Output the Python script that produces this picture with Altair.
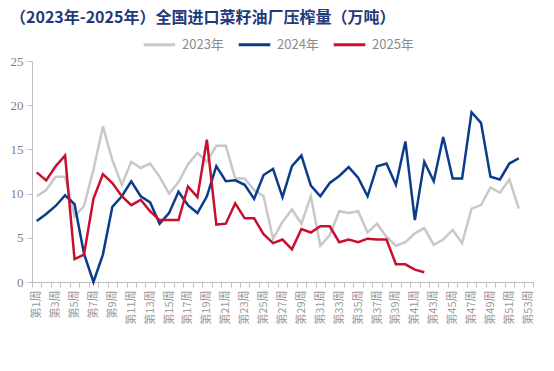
import altair as alt
import pandas as pd

weeks = [f"第{i}周" for i in range(1, 54)]
years = ["2023年", "2024年", "2025年"]
colors = ["#C8C8C8", "#0B3C8C", "#C8102E"]

w2023 = [9.7, 10.4, 11.9, 11.9, 7.4, 8.6, 12.7, 17.6, 13.8, 11.0,
         13.6, 12.9, 13.4, 11.9, 10.0, 11.3, 13.3, 14.6, 13.6, 15.4,
         15.4, 11.7, 11.7, 10.4, 9.7, 4.9, 6.8, 8.2, 6.6, 9.7,
         4.1, 5.3, 8.0, 7.8, 8.0, 5.6, 6.6, 5.1, 4.1, 4.5,
         5.5, 6.1, 4.2, 4.8, 5.9, 4.4, 8.3, 8.7, 10.7, 10.1,
         11.6, 8.3]
w2024 = [6.9, 7.7, 8.6, 9.8, 8.8, 3.2, 0.0, 3.1, 8.5, 9.7,
         11.4, 9.7, 9.0, 6.6, 7.8, 10.2, 8.7, 7.8, 9.7, 13.1,
         11.4, 11.5, 11.0, 9.4, 12.1, 12.8, 9.6, 13.1, 14.3, 10.9,
         9.7, 11.2, 12.0, 13.0, 11.8, 9.7, 13.1, 13.4, 11.0, 15.9,
         7.0, 13.6, 11.4, 16.4, 11.7, 11.7, 19.2, 18.0, 11.9, 11.6,
         13.4, 14.0]
w2025 = [12.4, 11.5, 13.1, 14.3, 2.6, 3.1, 9.4, 12.2, 11.2, 9.7,
         8.7, 9.3, 8.0, 7.0, 7.0, 7.0, 10.8, 9.6, 16.1, 6.5,
         6.6, 8.9, 7.2, 7.2, 5.4, 4.4, 4.8, 3.7, 6.0, 5.6,
         6.3, 6.3, 4.5, 4.8, 4.5, 4.9, 4.8, 4.8, 2.0, 2.0,
         1.4, 1.1]

rows = []
for yr, vals in zip(years, [w2023, w2024, w2025]):
    for i, v in enumerate(vals):
        rows.append({"week": weeks[i], "year": yr, "value": v})
df = pd.DataFrame(rows)

label_expr = ("parseInt(replace(replace(datum.label,'第',''),'周','')) % 2 == 1 "
              "? datum.label : ''")

chart = alt.Chart(df).mark_line(strokeWidth=2.5).encode(
    x=alt.X("week:N", sort=weeks,
            scale=alt.Scale(type="band", domain=weeks, paddingInner=0, paddingOuter=0),
            bandPosition=0.5,
            axis=alt.Axis(title=None, labelAngle=270, labelExpr=label_expr,
                          tickBand="extent", tickSize=5, tickColor="#BFBFBF",
                          domainColor="#BFBFBF", labelColor="#999999",
                          labelFontSize=11, labelFont="Noto Sans CJK SC",
                          labelPadding=3, grid=False)),
    y=alt.Y("value:Q", scale=alt.Scale(domain=[0, 25], nice=False),
            axis=alt.Axis(title=None, values=[0, 5, 10, 15, 20, 25],
                          tickSize=5, tickColor="#BFBFBF", domainColor="#BFBFBF",
                          labelColor="#7F7F7F", labelFontSize=13,
                          labelFont="Liberation Serif", labelPadding=4, grid=False)),
    color=alt.Color("year:N", scale=alt.Scale(domain=years, range=colors),
                    legend=alt.Legend(title=None, orient="none", direction="horizontal",
                                      legendX=110, legendY=-34,
                                      symbolType="stroke", symbolSize=1000,
                                      symbolStrokeWidth=3, labelFontSize=13,
                                      labelColor="#8C8C8C", labelFont="Noto Sans CJK SC",
                                      labelOffset=5, columnPadding=8)),
).properties(
    width=501, height=221,
    title=alt.TitleParams("（2023年-2025年）全国进口菜籽油厂压榨量（万吨）",
                          anchor="start", frame="group", dx=-22, offset=1,
                          fontSize=16, fontWeight="bold", color="#1F3A7A",
                          font="Noto Sans CJK SC"),
    autosize=alt.AutoSizeParams(type="none"),
    padding={"left": 24, "top": 53, "right": 10, "bottom": 70},
).configure_view(stroke=None)

chart.save("out.html", embed_options={"renderer": "svg", "actions": False})
